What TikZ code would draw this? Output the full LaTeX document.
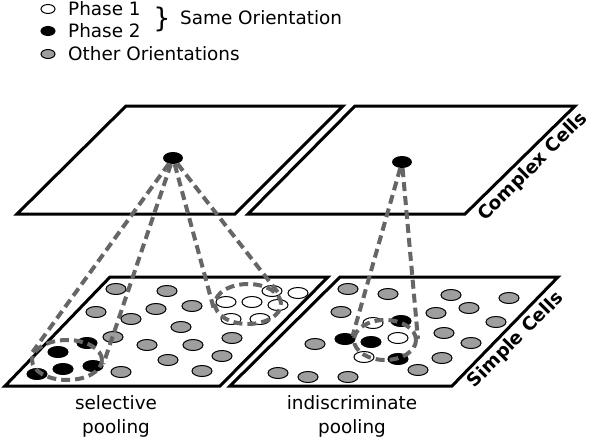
\documentclass[tikz,border=0pt]{standalone}
\usepackage{fontspec}
\setmainfont{DejaVu Sans}
\usetikzlibrary{shapes.geometric}

\begin{document}
\begin{tikzpicture}[x=1pt, y=-1pt,
  gdot/.style={shape=ellipse, draw=black, fill=black!38, line width=1pt, minimum width=20pt, minimum height=11pt, inner sep=0pt},
  wdot/.style={gdot, fill=white},
  bdot/.style={gdot, fill=black},
  ldot/.style={gdot, minimum width=14pt, minimum height=9pt},
  plane/.style={draw=black, line width=3pt, fill=white},
  pool/.style={draw=black!60, line width=4pt, dash pattern=on 9pt off 5pt},
  pooling/.style={pool, shape=ellipse, inner sep=0pt},
  lbl/.style={font=\fontsize{18.4}{24}\selectfont, inner sep=0pt}]
\useasboundingbox (0,0) rectangle (590,437);
% legend
\node[ldot, fill=white] (lw) at (48,9) {};
\node[ldot, fill=black] (lb) at (48,31) {};
\node[ldot] (lg) at (48,54) {};
\node[lbl, anchor=west] (tw) at (68,9) {Phase 1};
\node[lbl, anchor=west] (tb) at (68,31) {Phase 2};
\node[lbl, anchor=west] (tg) at (68,54) {Other Orientations};
\node[inner sep=0pt, font=\fontsize{27}{27}\selectfont] (brace) at (162,19) {\}};
\node[lbl, anchor=west] (same) at (180,18) {Same Orientation};
% simple cells
\draw[plane] (110,277) -- (328,277) -- (220,386) -- (5,386) -- cycle;
\draw[plane] (340,277) -- (558,277) -- (452,386) -- (230,386) -- cycle;
\node[lbl, font=\fontsize{18.4}{24}\selectfont\bfseries, rotate=45] (simple) at (516,340) {Simple Cells};
\node[gdot] (g1) at (116,289) {};
\node[gdot] (g2) at (167,291) {};
\node[gdot] (g3) at (96,312) {};
\node[gdot] (g4) at (156,309) {};
\node[gdot] (g5) at (192,306) {};
\node[gdot] (g6) at (131,319) {};
\node[gdot] (g7) at (181,327) {};
\node[gdot] (g8) at (113,337) {};
\node[gdot] (g9) at (147,345) {};
\node[gdot] (g10) at (193,345) {};
\node[gdot] (g11) at (232,338) {};
\node[gdot] (g12) at (168,360) {};
\node[gdot] (g13) at (222,356) {};
\node[gdot] (g14) at (121,372) {};
\node[gdot] (g15) at (202,371) {};
\node[wdot] (w1) at (272,291) {};
\node[wdot] (w2) at (298,293) {};
\node[wdot] (w3) at (226,302) {};
\node[wdot] (w4) at (252,302) {};
\node[wdot] (w5) at (278,305) {};
\node[wdot] (w6) at (231,319) {};
\node[wdot] (w7) at (260,319) {};
\node[bdot] (b1) at (87,343) {};
\node[bdot] (b2) at (58,352) {};
\node[bdot] (b3) at (93,366) {};
\node[bdot] (b4) at (63,369) {};
\node[bdot] (b5) at (37,374) {};
\node[gdot] (h1) at (348,289) {};
\node[gdot] (h2) at (388,294) {};
\node[gdot] (h3) at (451,295) {};
\node[gdot] (h4) at (509,298) {};
\node[gdot] (h5) at (341,312) {};
\node[gdot] (h6) at (436,313) {};
\node[gdot] (h7) at (469,308) {};
\node[gdot] (h8) at (496,322) {};
\node[gdot] (h9) at (444,333) {};
\node[gdot] (h10) at (471,343) {};
\node[gdot] (h11) at (315,344) {};
\node[gdot] (h12) at (442,358) {};
\node[gdot] (h13) at (418,370) {};
\node[gdot] (h14) at (278,373) {};
\node[gdot] (h15) at (308,377) {};
\node[gdot] (h16) at (348,377) {};
\node[wdot] (v1) at (373,323) {};
\node[wdot] (v2) at (398,338) {};
\node[wdot] (v3) at (364,357) {};
\node[bdot] (c1) at (401,321) {};
\node[bdot] (c2) at (345,339) {};
\node[bdot] (c3) at (371,342) {};
\node[bdot] (c4) at (398,359) {};
\node[lbl, align=center] (sel) at (116,416) {selective\\pooling};
\node[lbl, align=center] (ind) at (352,416) {indiscriminate\\pooling};
% complex cells
\draw[plane] (126,106) -- (343,106) -- (235,214) -- (17,214) -- cycle;
\draw[plane] (355,106) -- (575,106) -- (465,214) -- (248,214) -- cycle;
\node[lbl, font=\fontsize{18.4}{24}\selectfont\bfseries, rotate=45] (complex) at (533,167) {Complex Cells};
\node[shape=ellipse, fill=black, minimum width=20pt, minimum height=12pt, inner sep=0pt] (cL) at (173,158) {};
\node[shape=ellipse, fill=black, minimum width=20pt, minimum height=12pt, inner sep=0pt] (cR) at (402,162) {};
% pooling
\node[pooling, minimum width=70pt, minimum height=40pt] (selB) at (67,360) {};
\node[pooling, minimum width=66pt, minimum height=40pt] (selW) at (248,304) {};
\node[pooling, minimum width=62pt, minimum height=40pt] (mix) at (385,340) {};
\path [pool] (cL) edge (selB.167);
\path [pool] (cL) edge (selB.-6);
\path [pool] (cL) edge (selW.186);
\path [pool] (cL) edge (selW.17);
\path [pool] (cR) edge (mix.173);
\path [pool] (cR) edge (mix.2);
\end{tikzpicture}
\end{document}
